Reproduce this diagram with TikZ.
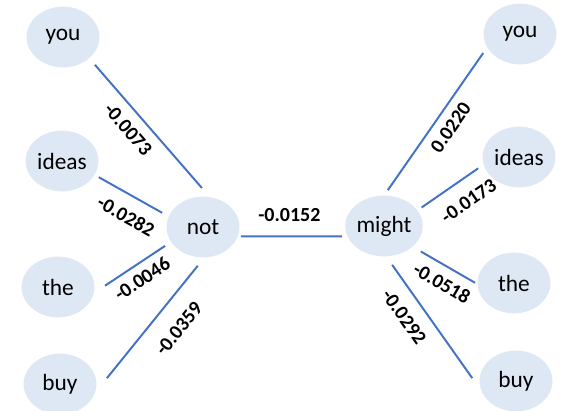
\documentclass[tikz,border=0pt]{standalone}
\usepackage{fontspec}
\setmainfont{Carlito}
\usetikzlibrary{shapes.geometric}
\definecolor{wordfill}{HTML}{DEE8F4}
\definecolor{linkblue}{HTML}{4472C4}

\begin{document}
\begin{tikzpicture}[x=0.025cm, y=-0.025cm,
    word/.style={ellipse, fill=wordfill, inner sep=0pt, outer sep=0pt,
                 minimum width=51.8pt, minimum height=43.2pt,
                 font=\fontsize{16.6}{20}\selectfont},
    link/.style={draw=linkblue, line width=1.4pt},
    wt/.style={font=\fontsize{14.2}{17}\selectfont\bfseries, sloped, below, inner sep=#1},
    wt/.default=6pt]
 \useasboundingbox (0,0) rectangle (564,411);
         \node [word] (Lyou)   at (63, 37)  {you};
         \node [word] (Lideas) at (62, 161) {ideas};
         \node [word] (Lthe)   at (58, 287) {the};
         \node [word] (Lbuy)   at (60, 384) {buy};
         \node [word] (not)    at (203, 227) {not};
         \node [word] (might)  at (384, 226) {might};
         \node [word] (Ryou)   at (520, 34)  {you};
         \node [word] (Rideas) at (519, 157) {ideas};
         \node [word] (Rthe)   at (514, 283) {the};
         \node [word] (Rbuy)   at (516, 381) {buy};
         \draw [link, shorten <=6.3pt, shorten >=8.6pt] (Lyou.-39) -- node [wt=6.9pt, pos=.43] {-0.0073} (not.77);
         \draw [link, shorten <=3.5pt, shorten >=5.4pt] (Lideas.-23) -- node [wt=8.9pt, pos=.56] {-0.0282} (not.163);
         \draw [link, shorten <=9.7pt, shorten >=5.2pt] (Lthe.-10) -- node [wt=5pt, pos=.52] {-0.0046} (not.205);
         \draw [link, shorten <=13.8pt, shorten >=7.7pt] (Lbuy.-15) -- node [wt=12.3pt, pos=.59] {-0.0359} (not.-87);
         \draw [link, shorten <=2.3pt, shorten >=3.8pt] (not.-15) -- node [wt=9.9pt, above, pos=.47] {-0.0152} (might.196);
         \draw [link, shorten <=4.8pt, shorten >=5pt] (might.90) -- node [wt=5.9pt, pos=.52] {0.0220} (Ryou.202);
         \draw [link, shorten <=3.7pt, shorten >=4.8pt] (might.25) -- node [wt=9.9pt, pos=.59] {-0.0173} (Rideas.192);
         \draw [link, shorten <=6.9pt, shorten >=2.1pt] (might.-36) -- node [wt=6.2pt, pos=.58] {-0.0518} (Rthe.182);
         \draw [link, shorten <=7.4pt, shorten >=12.1pt] (might.-86) -- node [wt=9pt, pos=.36] {-0.0292} (Rbuy.198);
\end{tikzpicture}
\end{document}
